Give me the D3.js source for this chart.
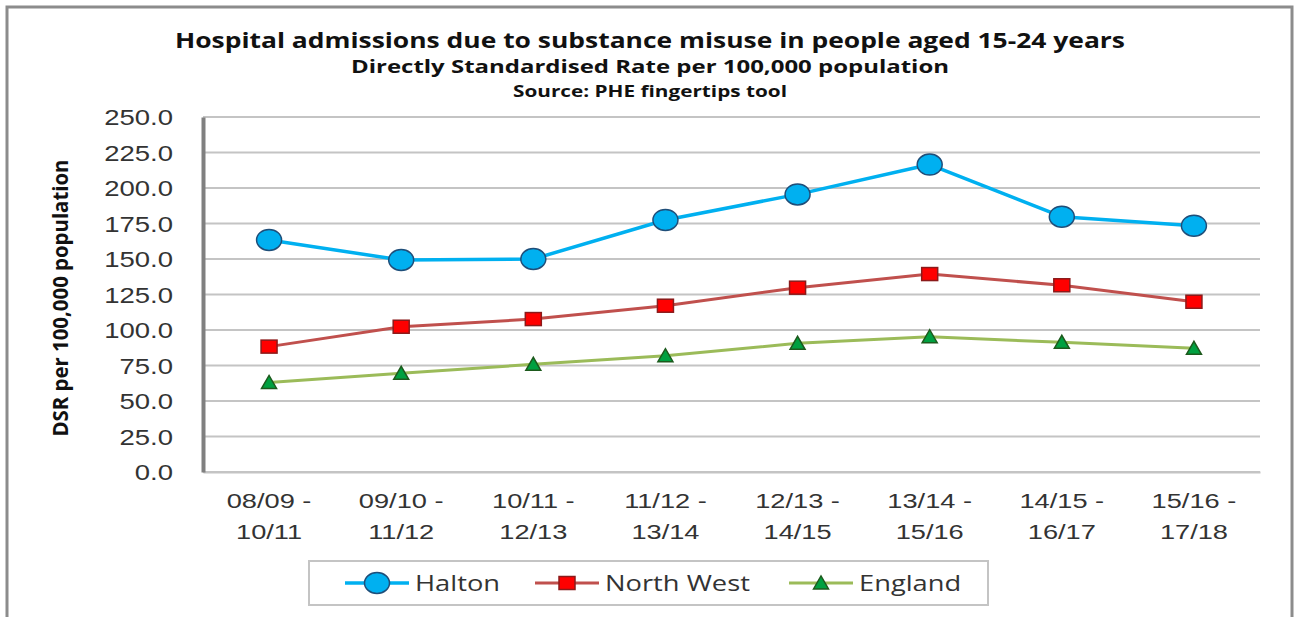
<!DOCTYPE html>
<html>
<head>
<meta charset="utf-8">
<script src="https://cdn.jsdelivr.net/npm/d3@7"></script>
<style>
  body { margin:0; background:#fff; }
  svg { display:block; font-family:"Open Sans", "DejaVu Sans", sans-serif; }
</style>
</head>
<body>
<div id="chart"></div>
<script>
// data
var categories = ["08/09 - 10/11","09/10 - 11/12","10/11 - 12/13","11/12 - 13/14",
                  "12/13 - 14/15","13/14 - 15/16","14/15 - 16/17","15/16 - 17/18"];
var halton    = [163.4, 149.3, 150.0, 177.5, 195.5, 216.5, 179.8, 173.5];
var northWest = [88.3, 102.3, 107.7, 117.1, 129.8, 139.4, 131.5, 119.9];
var england   = [63.1, 69.5, 75.8, 81.9, 90.6, 95.3, 91.3, 87.1];
var yTicks    = [0, 25, 50, 75, 100, 125, 150, 175, 200, 225, 250];
var seriesNames = ["Halton", "North West", "England"];

var width = 1299, height = 617;
var plotLeft = 203, plotRight = 1260, plotTop = 117, plotBottom = 472;

var svg = d3.select('#chart').append('svg')
    .attr('width', width)
    .attr('height', height);

// outer frame
svg.append('rect')
    .attr('x', 7).attr('y', 7)
    .attr('width', 1285).attr('height', 612)
    .style('fill', '#fff')
    .style('stroke', '#8c8c8c')
    .style('stroke-width', 3);

var x = d3.scaleBand().domain(categories).range([plotLeft, plotRight]);
var y = d3.scaleLinear().domain([0, 250]).range([plotBottom, plotTop]);

// stretch text horizontally (source font is a wide-rendered Calibri)
function stretch(sel, k) {
    sel.each(function() {
        var t = d3.select(this);
        var tx = +t.attr('x') || 0, ty = +t.attr('y') || 0;
        t.attr('x', 0).attr('y', 0)
         .attr('transform', 'translate(' + tx + ',' + ty + ') scale(' + k + ',1)');
    });
}

// gridlines
svg.append('g')
    .selectAll('line').data(yTicks).enter()
    .append('line')
    .attr('x1', plotLeft).attr('x2', plotRight)
    .attr('y1', function(d){ return y(d); })
    .attr('y2', function(d){ return y(d); })
    .style('stroke', '#c4c4c4')
    .style('stroke-width', 2);

// x axis
var xAxis = svg.append('g')
    .attr('transform', 'translate(0,' + plotBottom + ')')
    .call(d3.axisBottom(x).tickSize(0).tickFormat(''));
xAxis.select('.domain').style('stroke', '#c4c4c4').style('stroke-width', 2);
xAxis.selectAll('.tick').each(function(d) {
    var parts = d.split(' - ');
    var t = d3.select(this).append('text')
        .attr('x', 0).attr('y', 36)
        .attr('text-anchor', 'middle')
        .style('font-size', '20px')
        .style('fill', '#333');
    t.append('tspan').attr('x', 0).attr('dy', 0).text(parts[0] + ' -');
    t.append('tspan').attr('x', 0).attr('dy', 31).text(parts[1]);
    stretch(t, 1.36);
});

// y axis
var yAxis = svg.append('g')
    .attr('transform', 'translate(' + plotLeft + ',0)')
    .call(d3.axisLeft(y).tickValues(yTicks).tickSize(0).tickPadding(30)
        .tickFormat(function(d){ return d.toFixed(1); }));
yAxis.select('.domain').style('stroke', '#808080').style('stroke-width', 4);
yAxis.selectAll('text')
    .style('font-size', '22px')
    .style('fill', '#333')
    .attr('dy', '0.36em');
stretch(yAxis.selectAll('text'), 1.25);

// y axis title
svg.append('text')
    .attr('transform', 'translate(68,298) rotate(-90)')
    .attr('text-anchor', 'middle')
    .attr('textLength', 277)
    .attr('lengthAdjust', 'spacingAndGlyphs')
    .style('font-size', '22px')
    .style('font-weight', 'bold')
    .style('fill', '#111')
    .text('DSR per 100,000 population');

// titles
var titles = [
    {t:'Hospital admissions due to substance misuse in people aged 15-24 years', y:48, s:22, w:950},
    {t:'Directly Standardised Rate per 100,000 population', y:73, s:18, w:598},
    {t:'Source: PHE fingertips tool', y:97, s:16, w:274}
];
svg.selectAll('.title').data(titles).enter()
    .append('text')
    .attr('class', 'title')
    .attr('x', 650)
    .attr('y', function(d){ return d.y; })
    .attr('text-anchor', 'middle')
    .attr('textLength', function(d){ return d.w; })
    .attr('lengthAdjust', 'spacingAndGlyphs')
    .style('font-size', function(d){ return d.s + 'px'; })
    .style('font-weight', 'bold')
    .style('fill', '#111')
    .text(function(d){ return d.t; });

var series = [
    {name: seriesNames[0], values: halton,    line: '#00b0f0', fill: '#00b0f0', stroke: '#1f4e79', width: 3.5, shape: 'circle'},
    {name: seriesNames[1], values: northWest, line: '#c0504d', fill: '#ff0000', stroke: '#8b1a1a', width: 3,   shape: 'square'},
    {name: seriesNames[2], values: england,   line: '#9bbb59', fill: '#00a040', stroke: '#1d5a1d', width: 3,   shape: 'triangle'}
];

var line = d3.line()
    .x(function(d, i){ return x(categories[i]) + x.bandwidth() / 2; })
    .y(function(d){ return y(d); });

function drawMarker(g, shape, cx, cy, s) {
    var m;
    if (shape == 'circle') {
        m = g.append('ellipse').attr('cx', cx).attr('cy', cy).attr('rx', 12.5).attr('ry', 10.5);
    } else if (shape == 'square') {
        m = g.append('rect').attr('x', cx - 8).attr('y', cy - 6.5).attr('width', 16).attr('height', 13);
    } else {
        m = g.append('path').attr('d', 'M' + (cx - 7.5) + ',' + (cy + 6) + 'L' + cx + ',' + (cy - 7) + 'L' + (cx + 7.5) + ',' + (cy + 6) + 'Z');
    }
    m.style('fill', s.fill).style('stroke', s.stroke).style('stroke-width', 1.5);
}

series.forEach(function(s) {
    var g = svg.append('g');
    g.append('path')
        .datum(s.values)
        .attr('d', line)
        .style('fill', 'none')
        .style('stroke', s.line)
        .style('stroke-width', s.width)
        .style('stroke-linejoin', 'round');
    s.values.forEach(function(v, i) {
        drawMarker(g, s.shape, x(categories[i]) + x.bandwidth() / 2, y(v), s);
    });
});

// legend
var legend = svg.append('g');
legend.append('rect')
    .attr('x', 309).attr('y', 561)
    .attr('width', 679).attr('height', 44)
    .style('fill', '#fff')
    .style('stroke', '#c4c4c4')
    .style('stroke-width', 2);
var legendX = [377, 567, 821];
series.forEach(function(s, i) {
    var cx = legendX[i], cy = 583;
    legend.append('line')
        .attr('x1', cx - 32).attr('x2', cx + 32)
        .attr('y1', cy).attr('y2', cy)
        .style('stroke', s.line)
        .style('stroke-width', s.width);
    drawMarker(legend, s.shape, cx, cy, s);
    var t = legend.append('text')
        .attr('x', cx + 38).attr('y', cy + 8)
        .style('font-size', '21px')
        .style('fill', '#333')
        .text(s.name);
    stretch(t, 1.3);
});
</script>
</body>
</html>
